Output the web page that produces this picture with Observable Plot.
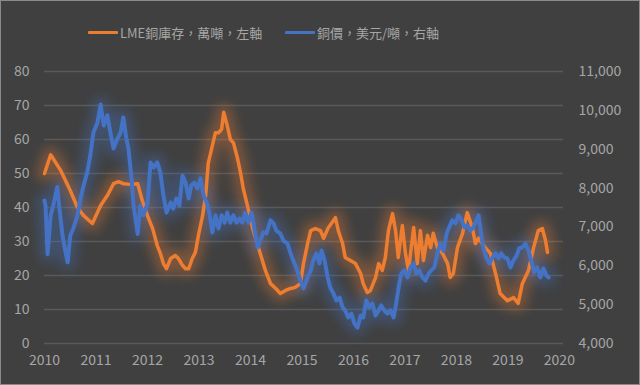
<!DOCTYPE html>
<html><head><meta charset="utf-8">
<script src="https://cdn.jsdelivr.net/npm/d3@7"></script>
<script src="https://cdn.jsdelivr.net/npm/@observablehq/plot@0.6"></script>
<style>
html,body{margin:0;padding:0;background:#404040;}
#frame{position:relative;width:640px;height:385px;background:#404040;overflow:hidden;font-family:"Noto Sans CJK TC","Noto Sans",sans-serif;}
#border{position:absolute;left:0;top:0;width:640px;height:385px;box-sizing:border-box;border:1px solid #8a8a8a;pointer-events:none;}
.item{position:absolute;top:22px;height:20px;display:flex;align-items:center;color:#a6a6a6;font-size:13px;white-space:nowrap;}
.sw{width:30px;height:3px;margin-right:2px;border-radius:1px;}
#chart{position:absolute;left:0;top:50px;}
</style></head>
<body>
<div id="frame">
  <div class="item" style="left:88px"><div class="sw"></div><span id="l1"></span></div>
  <div class="item" style="left:285px"><div class="sw"></div><span id="l2"></span></div>
  <div id="chart"></div>
  <div id="border"></div>
</div>
<script>
const seriesNames = ["LME銅庫存，萬噸，左軸", "銅價，美元/噸，右軸"];
const seriesColors = ["#ED7D31", "#4472C4"];
const yearTicks = [2010, 2011, 2012, 2013, 2014, 2015, 2016, 2017, 2018, 2019, 2020];
const leftTicks = [0, 10, 20, 30, 40, 50, 60, 70, 80];
const priceTicks = [4000, 5000, 6000, 7000, 8000, 9000, 10000, 11000];

// LME copper stock (10k tonnes), left axis
const stockYears = [2010.00,2010.12,2010.31,2010.50,2010.64,2010.76,2010.93,2011.09,2011.22,2011.34,2011.44,2011.53,2011.67,2011.81,2011.90,2012.00,2012.10,2012.19,2012.25,2012.31,2012.37,2012.45,2012.54,2012.60,2012.68,2012.74,2012.80,2012.87,2012.93,2012.99,2013.07,2013.13,2013.18,2013.26,2013.32,2013.38,2013.44,2013.48,2013.55,2013.61,2013.67,2013.75,2013.81,2013.86,2013.94,2014.04,2014.10,2014.19,2014.29,2014.39,2014.49,2014.58,2014.68,2014.78,2014.87,2014.97,2015.03,2015.11,2015.17,2015.26,2015.36,2015.42,2015.51,2015.65,2015.71,2015.79,2015.84,2015.94,2016.04,2016.14,2016.19,2016.27,2016.33,2016.43,2016.49,2016.56,2016.62,2016.68,2016.76,2016.82,2016.87,2016.95,2017.01,2017.07,2017.17,2017.24,2017.30,2017.36,2017.44,2017.50,2017.55,2017.63,2017.73,2017.83,2017.88,2017.94,2018.02,2018.12,2018.21,2018.31,2018.37,2018.43,2018.50,2018.56,2018.66,2018.76,2018.85,2018.99,2019.11,2019.20,2019.28,2019.40,2019.50,2019.59,2019.67,2019.73,2019.77];
const stockValues = [50,55.5,51,45,40,37.6,35.3,40.6,43.5,47,47.6,47,46.8,47,42,37.6,33.8,28.8,26.5,23.5,22,25,25.9,25,23,22,22,25,26.8,31.8,37.6,43.5,53,58.2,62,62,63,68,64,60,59,54.4,50,45.6,40.6,34,31,26.5,21.5,17.6,16.2,14.7,15.6,16.2,16.5,17.6,23.5,29.4,33.2,33.8,33.2,30.9,34,37,33,29.4,25.3,24.4,23.5,20.6,17.6,15,15.6,19.4,23.5,21.5,25.3,33.2,38.2,33,25.3,34.7,26.5,21.5,34.1,23.5,33.2,24.4,31.8,28.2,32.4,28.2,26.5,23.5,19.4,20.6,28.2,32.4,38.5,34,29.4,31,29.4,28.2,26.5,20.6,14.7,12.6,13.5,11.8,17.6,21.5,28.2,33.2,33.8,30.3,26.8];

// Copper price (USD/tonne), right axis
const priceYears = [2010.00,2010.02,2010.06,2010.12,2010.17,2010.25,2010.29,2010.35,2010.41,2010.45,2010.50,2010.56,2010.64,2010.70,2010.76,2010.83,2010.89,2010.95,2011.03,2011.09,2011.15,2011.22,2011.28,2011.34,2011.42,2011.48,2011.53,2011.59,2011.63,2011.69,2011.73,2011.81,2011.86,2011.92,2012.00,2012.06,2012.12,2012.19,2012.25,2012.31,2012.37,2012.45,2012.50,2012.56,2012.62,2012.68,2012.74,2012.80,2012.85,2012.91,2012.97,2013.03,2013.09,2013.15,2013.20,2013.26,2013.32,2013.38,2013.44,2013.50,2013.55,2013.61,2013.67,2013.73,2013.79,2013.84,2013.90,2013.96,2014.02,2014.06,2014.14,2014.19,2014.25,2014.31,2014.39,2014.45,2014.50,2014.58,2014.64,2014.72,2014.78,2014.83,2014.91,2014.97,2015.03,2015.11,2015.17,2015.22,2015.28,2015.34,2015.38,2015.44,2015.50,2015.55,2015.61,2015.67,2015.73,2015.79,2015.84,2015.90,2015.96,2016.02,2016.08,2016.14,2016.19,2016.25,2016.31,2016.37,2016.43,2016.49,2016.54,2016.60,2016.66,2016.72,2016.78,2016.83,2016.89,2016.93,2016.99,2017.05,2017.11,2017.17,2017.22,2017.28,2017.34,2017.40,2017.46,2017.51,2017.57,2017.63,2017.69,2017.75,2017.81,2017.86,2017.92,2017.98,2018.04,2018.10,2018.16,2018.21,2018.27,2018.33,2018.39,2018.43,2018.47,2018.52,2018.58,2018.64,2018.70,2018.76,2018.82,2018.87,2018.93,2018.99,2019.05,2019.11,2019.17,2019.22,2019.28,2019.34,2019.40,2019.46,2019.51,2019.57,2019.63,2019.69,2019.75,2019.79];
const priceValues = [7680,7550,6300,7300,7550,8030,7470,6780,6340,6090,6780,6960,7300,7730,8070,8400,8840,9430,9690,10150,9610,9870,9430,9020,9280,9430,9820,9280,9020,8250,7550,6820,7550,7300,7600,8660,8530,8660,8400,7810,7370,7630,7470,7730,7550,8320,8140,7730,8070,8140,7990,8250,7810,7630,7370,6860,7300,6960,7300,7110,7370,7110,7300,7110,7220,7110,7370,7110,7370,7090,6470,6650,6860,6830,7170,7090,6910,6830,6650,6570,6320,6140,5880,5620,5420,5700,5880,6140,6320,6060,6390,6140,5700,5440,5290,5110,5180,4930,4850,4670,4770,4510,4410,4720,4670,5110,4930,5030,4720,4850,4980,4850,4770,4850,4670,5030,5540,5800,5880,5700,5960,6060,5800,5880,5700,5620,5800,5880,5960,6320,6570,6390,6830,6990,7170,7090,7300,7170,6990,7040,6910,6990,7170,7300,6910,6470,6210,6060,6210,6320,6190,6320,6210,6190,5960,6140,6260,6450,6470,6570,6390,6090,5830,5960,5700,5930,5750,5700];

document.getElementById("l1").textContent = seriesNames[0];
document.getElementById("l2").textContent = seriesNames[1];
document.querySelectorAll(".sw")[0].style.background = seriesColors[0];
document.querySelectorAll(".sw")[1].style.background = seriesColors[1];

const pMin = priceTicks[0], pMax = priceTicks[priceTicks.length - 1];
const lMax = leftTicks[leftTicks.length - 1];
const toLeft = p => (p - pMin) / (pMax - pMin) * lMax;
const fromLeft = v => v / lMax * (pMax - pMin) + pMin;

const stock = stockYears.map((t, i) => ({t, v: stockValues[i]}));
const price = priceYears.map((t, i) => ({t, v: toLeft(priceValues[i])}));

const font = '"Noto Sans CJK TC","Noto Sans",sans-serif';
const chart = Plot.plot({
  width: 640, height: 335,
  marginTop: 21, marginBottom: 42, marginLeft: 44, marginRight: 77,
  style: {background: "transparent", color: "#a6a6a6", fontSize: "14px", fontFamily: font},
  x: {domain: [2010, 2020.08], axis: null},
  y: {domain: [0, lMax], axis: null},
  marks: [
    Plot.ruleY(leftTicks, {stroke: "#595959", strokeWidth: 1.3}),
    Plot.axisY({ticks: leftTicks, anchor: "left", tickSize: 0, tickPadding: 15, label: null, tickFormat: d => String(d), fill: "#a6a6a6"}),
    Plot.axisY({ticks: priceTicks.map(toLeft), anchor: "right", tickSize: 0, tickPadding: 15, label: null, tickFormat: d => d3.format(",")(Math.round(fromLeft(d))), fill: "#a6a6a6"}),
    Plot.axisX({ticks: yearTicks, anchor: "bottom", tickSize: 0, tickPadding: 12, label: null, tickFormat: d => String(d), fill: "#a6a6a6"}),
    Plot.line(stock, {x: "t", y: "v", stroke: seriesColors[0], strokeWidth: 16, strokeOpacity: 0.34, strokeLinejoin: "round"}),
    Plot.line(price, {x: "t", y: "v", stroke: seriesColors[1], strokeWidth: 16, strokeOpacity: 0.34, strokeLinejoin: "round"}),
    Plot.line(stock, {x: "t", y: "v", stroke: seriesColors[0], strokeWidth: 3.5, strokeLinejoin: "round"}),
    Plot.line(price, {x: "t", y: "v", stroke: seriesColors[1], strokeWidth: 4, strokeLinejoin: "round"})
  ]
});
const ns = "http://www.w3.org/2000/svg";
const defs = document.createElementNS(ns, "defs");
const filter = document.createElementNS(ns, "filter");
filter.setAttribute("id", "glowblur");
filter.setAttribute("filterUnits", "userSpaceOnUse");
filter.setAttribute("x", "0"); filter.setAttribute("y", "0");
filter.setAttribute("width", "640"); filter.setAttribute("height", "335");
const blur = document.createElementNS(ns, "feGaussianBlur");
blur.setAttribute("stdDeviation", "6");
filter.appendChild(blur);
defs.appendChild(filter);
chart.insertBefore(defs, chart.firstChild);
const lineGroups = chart.querySelectorAll('g[aria-label="line"]');
for (let i = 0; i < 2 && i < lineGroups.length; i++) lineGroups[i].setAttribute("filter", "url(#glowblur)");
document.getElementById("chart").appendChild(chart);
</script>
</body></html>
